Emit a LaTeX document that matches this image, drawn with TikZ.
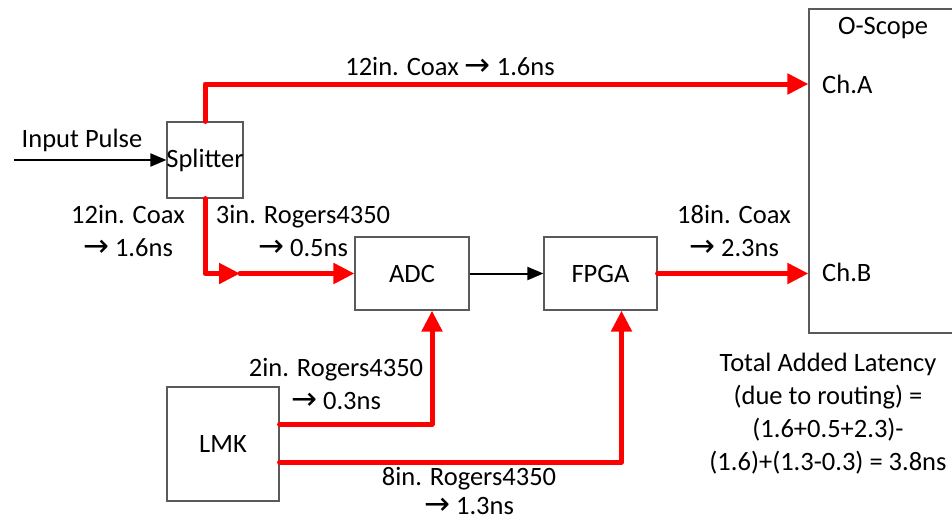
\documentclass[tikz,border=0pt]{standalone}
\usepackage{fontspec}
\setmainfont{Carlito}
\newfontfamily\symfont{DejaVu Sans}
\usetikzlibrary{arrows.meta, positioning}
\definecolor{wire}{HTML}{FF0000}
\definecolor{edge}{HTML}{5A5A5A}
\newcommand{\tto}{{\symfont\fontsize{31}{33}\selectfont\char"2192}}

\begin{document}
\begin{tikzpicture}[
    x=1pt, y=-1pt,
    every node/.style={font=\fontsize{26.5}{33}\selectfont},
    box/.style={draw=edge, line width=1.2pt, inner sep=0pt},
    lab/.style={align=center, inner sep=0pt},
    trace/.style={wire, line width=5pt, line cap=round, line join=round},
    tip/.style={-{Triangle[length=21pt, width=20pt]}},
    sig/.style={black, line width=2pt, -{Triangle[length=16pt, width=13pt]}},
]
\useasboundingbox (0,0) rectangle (952,523);
\clip (0,0) rectangle (952,523);

% the blocks
\node[box, minimum width=76pt, minimum height=76pt, label=center:Splitter] (splitter) at (205,160) {};
\node[box, minimum width=114pt, minimum height=73pt] (adc) at (412,273.5) {ADC};
\node[box, minimum width=113pt, minimum height=73pt] (fpga) at (600.5,273.5) {FPGA};
\node[box, minimum width=112pt, minimum height=114pt] (lmk) at (223,444) {LMK};
\node[box, minimum width=144pt, minimum height=324pt] (scope) at (881,171) {};
\node[lab] (scopename) at (883,28) {O-Scope};
\node[lab, anchor=west] (cha) at (822,84) {Ch.A};
\node[lab, anchor=west] (chb) at (822,272) {Ch.B};

% input
\coordinate (src) at (14,160);
\node[lab] (inlab) at (82,140) {Input Pulse};
\draw[sig] (src) -- (splitter.west);

% splitter to channel A
\draw[trace, tip] (splitter.north) |- (scope.west |- cha);
\node[lab] (coaxA) at (450,66) {12in. Coax \tto\ 1.6ns};

% splitter to adc
\coordinate (join) at (240,273.5);
\draw[trace, tip] (splitter.south) |- (join);
\draw[trace, tip] (join) -- (adc.west);
\node[lab] (coaxB) at (128,231) {12in. Coax\\\tto\ 1.6ns};
\node[lab] (pcbA) at (303,231) {3in. Rogers4350\\\tto\ 0.5ns};

% adc to fpga to channel B
\draw[sig] (adc) -- (fpga);
\draw[trace, tip] (fpga.east) -- (scope.west |- fpga.east);
\node[lab] (coaxC) at (734,231) {18in. Coax\\\tto\ 2.3ns};

% clock lines
\draw[trace, tip] ([yshift=20pt]lmk.east) -| ([xshift=20pt]adc.south);
\draw[trace, tip] ([yshift=-18pt]lmk.east) -| ([xshift=21pt]fpga.south);
\node[lab] (pcbB) at (336,384) {2in. Rogers4350\\\tto\ 0.3ns};
\node[lab] (pcbC) at (469,491) {8in. Rogers4350\\[-4pt]\tto\ 1.3ns};

% the sum
\node[lab] (total) at (828,414) {Total Added Latency\\(due to routing) =\\(1.6+0.5+2.3)-\\(1.6)+(1.3-0.3) = 3.8ns};
\end{tikzpicture}
\end{document}
